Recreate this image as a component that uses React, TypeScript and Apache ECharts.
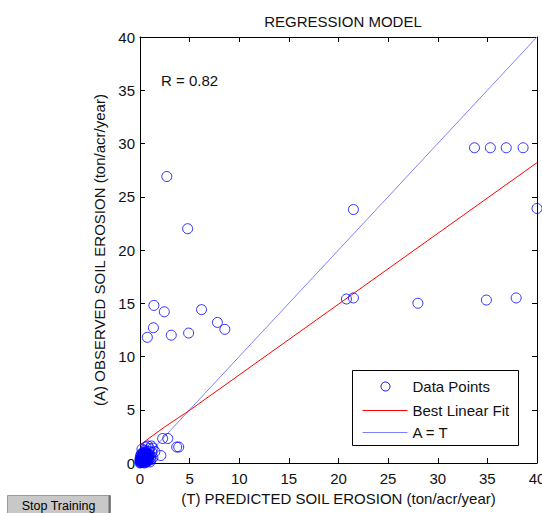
import React, { useEffect, useRef } from "react";
import * as echarts from "echarts";

const xTicks = [0, 40, 5];
const yTicks = [0, 40, 5];

const outlierPoints: [number, number][] = [
  [2.7, 26.9], [4.8, 22.0], [21.5, 23.8],
  [33.7, 29.6], [35.3, 29.6], [36.9, 29.6], [38.6, 29.6],
  [40.0, 23.9],
  [20.8, 15.4], [21.5, 15.5], [28.0, 15.0], [34.9, 15.3], [37.9, 15.5],
  [1.4, 14.8], [2.45, 14.2], [6.2, 14.4], [1.35, 12.7], [0.74, 11.8],
  [3.15, 12.0], [4.9, 12.2], [7.8, 13.2], [8.55, 12.55],
];

const lowPoints: [number, number][] = [
  [2.28, 2.3], [2.8, 2.3], [3.7, 1.5], [3.9, 1.5], [2.1, 0.7],
  [0.8, 1.6], [1.15, 1.6], [1.5, 1.06],
];

const clusterPoints: [number, number][] = [
  [0.05, 0.05], [0.1, 0.2], [0.2, 0.1], [0.3, 0.3], [0.15, 0.5], [0.4, 0.2],
  [0.5, 0.5], [0.25, 0.7], [0.6, 0.3], [0.7, 0.8], [0.35, 1.0], [0.8, 0.5],
  [0.9, 1.1], [0.5, 1.2], [1.0, 0.7], [1.1, 0.3], [1.2, 1.0], [0.6, 1.5],
  [1.3, 1.4], [1.0, 0.1], [0.0, 0.4], [0.1, 0.8], [0.45, 0.0], [0.75, 0.15],
  [1.3, 0.5], [0.2, 1.3], [0.95, 1.35],
  [0.0, 0.0], [0.1, 0.05], [0.2, 0.25], [0.05, 0.35], [0.3, 0.1], [0.15, 0.15],
  [0.25, 0.45], [0.4, 0.4], [0.35, 0.6], [0.55, 0.15], [0.45, 0.75], [0.6, 0.6],
  [0.05, 0.6], [0.2, 0.9], [0.65, 0.95], [0.85, 0.3], [0.3, 0.85], [0.5, 0.95],
  [0.0, 0.2], [0.12, 0.35], [0.38, 0.05], [0.7, 0.45], [0.9, 0.75], [1.05, 0.5],
  [0.08, 0.12], [0.18, 0.38], [0.28, 0.2], [0.42, 0.52], [0.52, 0.32], [0.62, 0.08],
  [0.72, 0.62], [0.82, 0.88], [0.32, 0.72], [0.48, 0.62], [0.58, 0.82], [0.78, 0.32],
  [0.15, 0.65], [0.25, 0.55], [0.4, 0.85], [0.55, 1.05], [0.68, 0.2], [0.88, 0.55],
];

const fitLine: [number, number][] = [[0, 1.7], [2.5, 3.4], [5, 4.95], [40, 28.2]];
const identityLine: [number, number][] = [[0, 0], [40, 40]];

const titleText = "REGRESSION MODEL";
const xName = "(T) PREDICTED SOIL EROSION (ton/acr/year)";
const yName = "(A) OBSERVED SOIL EROSION (ton/acr/year)";
const rText = "R = 0.82";
const legendNames = ["Data Points", "Best Linear Fit", "A = T"];

const FONT = "Arial, 'Liberation Sans', sans-serif";

export default function App() {
  const ref = useRef<HTMLDivElement>(null);
  useEffect(() => {
    if (!ref.current) return;
    const chart = echarts.init(ref.current, undefined, { renderer: "svg" });
    const axisCommon = {
      type: "value" as const,
      min: xTicks[0],
      max: xTicks[1],
      interval: xTicks[2],
      splitLine: { show: false },
      axisLine: { show: true, onZero: false, lineStyle: { color: "#000", width: 1 } },
      axisTick: { show: true, inside: true, length: 5, lineStyle: { color: "#000" } },
    };
    const labelStyle = { fontSize: 15, color: "#111", fontFamily: FONT };
    chart.setOption({
      animation: false,
      backgroundColor: "#fff",
      textStyle: { fontFamily: FONT },
      title: {
        text: titleText,
        left: 338,
        textAlign: "center",
        top: 9,
        textStyle: { fontSize: 15, fontWeight: "normal", color: "#111", fontFamily: FONT },
      },
      grid: { left: 140, right: 5, top: 37, bottom: 50, containLabel: false, outerBoundsMode: "none" },
      xAxis: [
        {
          ...axisCommon,
          position: "bottom",
          axisLabel: { ...labelStyle, margin: 8 },
          name: xName,
          nameLocation: "middle",
          nameGap: 27,
          nameTextStyle: { fontSize: 15, color: "#111", fontFamily: FONT },
        },
        { ...axisCommon, position: "top", axisLabel: { show: false } },
      ],
      yAxis: [
        {
          ...axisCommon,
          min: yTicks[0],
          max: yTicks[1],
          interval: yTicks[2],
          position: "left",
          axisLabel: { ...labelStyle, margin: 5 },
          name: yName,
          nameLocation: "middle",
          nameGap: 29,
          nameTextStyle: { fontSize: 15, color: "#111", fontFamily: FONT },
        },
        {
          ...axisCommon,
          min: yTicks[0],
          max: yTicks[1],
          interval: yTicks[2],
          position: "right",
          axisLabel: { show: false },
        },
      ],
      series: [
        {
          name: legendNames[2],
          type: "line",
          data: identityLine,
          symbol: "none",
          lineStyle: { color: "#8080ff", width: 1 },
          z: 2,
        },
        {
          name: legendNames[1],
          type: "line",
          data: fitLine,
          symbol: "none",
          lineStyle: { color: "#ff0000", width: 1 },
          z: 3,
        },
        {
          name: legendNames[0],
          type: "scatter",
          data: [...outlierPoints, ...lowPoints, ...clusterPoints],
          symbol: "circle",
          symbolSize: 10,
          itemStyle: { color: "rgba(0,0,0,0)", borderColor: "#0000ff", borderWidth: 1 },
          z: 4,
        },
      ],
      graphic: [
        {
          type: "text",
          left: 161,
          top: 73,
          style: { text: rText, fontSize: 15, fill: "#111", fontFamily: FONT },
        },
        {
          type: "group",
          left: 352,
          top: 370,
          children: [
            {
              type: "rect",
              shape: { x: 0, y: 0, width: 166, height: 75 },
              style: { fill: "#fff", stroke: "#000", lineWidth: 1 },
            },
            {
              type: "circle",
              shape: { cx: 33, cy: 16, r: 4.5 },
              style: { fill: "none", stroke: "#0000ff", lineWidth: 1 },
            },
            {
              type: "line",
              shape: { x1: 10, y1: 40, x2: 55, y2: 40 },
              style: { stroke: "#ff0000", lineWidth: 1 },
            },
            {
              type: "line",
              shape: { x1: 10, y1: 62, x2: 55, y2: 62 },
              style: { stroke: "#8080ff", lineWidth: 1 },
            },
            {
              type: "text",
              x: 60,
              y: 16,
              style: { text: legendNames[0], fontSize: 15, fill: "#111", fontFamily: FONT, verticalAlign: "middle" },
            },
            {
              type: "text",
              x: 60,
              y: 40,
              style: { text: legendNames[1], fontSize: 15, fill: "#111", fontFamily: FONT, verticalAlign: "middle" },
            },
            {
              type: "text",
              x: 60,
              y: 62,
              style: { text: legendNames[2], fontSize: 15, fill: "#111", fontFamily: FONT, verticalAlign: "middle" },
            },
          ],
        },
        {
          type: "group",
          left: 7,
          top: 493,
          children: [
            {
              type: "rect",
              shape: { x: 0, y: 0, width: 103, height: 22 },
              style: { fill: "#c8c8c8", stroke: "#9a9a9a", lineWidth: 1 },
            },
            {
              type: "line",
              shape: { x1: 102, y1: 0, x2: 102, y2: 22 },
              style: { stroke: "#707070", lineWidth: 2 },
            },
            {
              type: "text",
              x: 51,
              y: 10,
              style: {
                text: "Stop Training",
                fontSize: 12.5,
                fill: "#000",
                fontFamily: FONT,
                align: "center",
                verticalAlign: "middle",
              },
            },
          ],
        },
      ],
    });
    return () => chart.dispose();
  }, []);
  return (
    <div
      ref={ref}
      style={{ position: "absolute", left: 0, top: 0, width: 542, height: 513, background: "#fff" }}
    />
  );
}
